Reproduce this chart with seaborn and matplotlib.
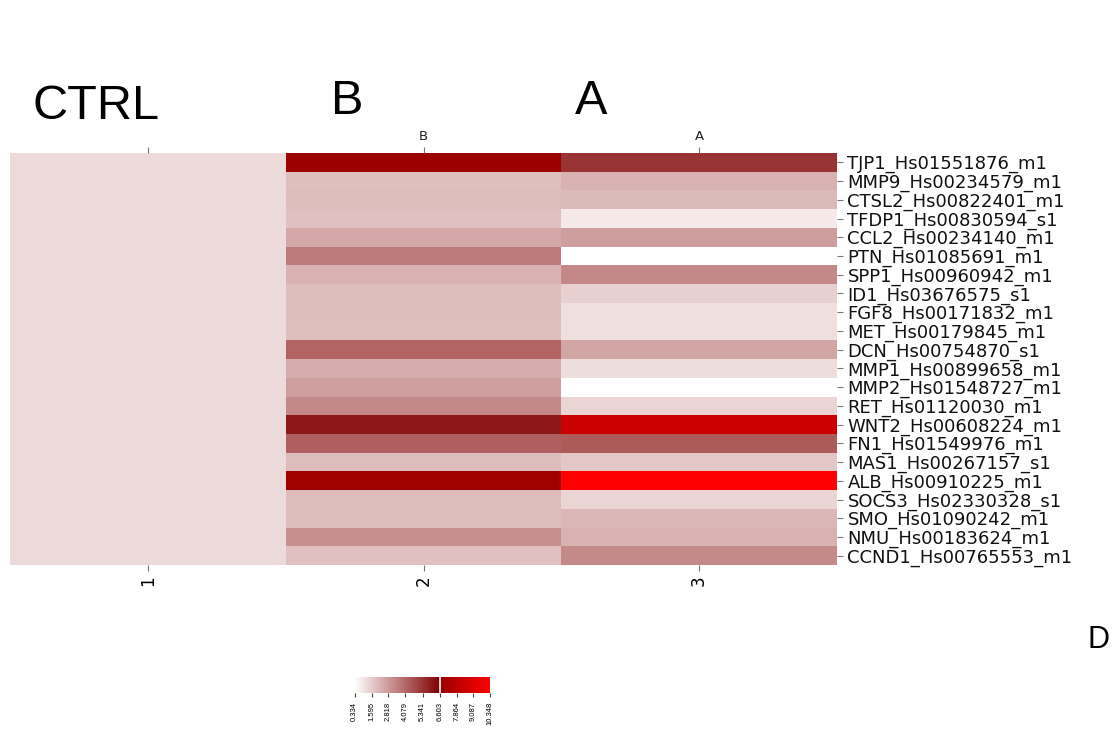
import numpy as np
import pandas as pd
import matplotlib
matplotlib.use("Agg")
import matplotlib.pyplot as plt
import seaborn as sns
from matplotlib.colors import LinearSegmentedColormap

sns.set_style("white")
plt.rcParams['font.family'] = ['Liberation Sans', 'DejaVu Sans']
plt.rcParams['text.color'] = 'black'

genes = ["TJP1_Hs01551876_m1", "MMP9_Hs00234579_m1", "CTSL2_Hs00822401_m1",
         "TFDP1_Hs00830594_s1", "CCL2_Hs00234140_m1", "PTN_Hs01085691_m1",
         "SPP1_Hs00960942_m1", "ID1_Hs03676575_s1", "FGF8_Hs00171832_m1",
         "MET_Hs00179845_m1", "DCN_Hs00754870_s1", "MMP1_Hs00899658_m1",
         "MMP2_Hs01548727_m1", "RET_Hs01120030_m1", "WNT2_Hs00608224_m1",
         "FN1_Hs01549976_m1", "MAS1_Hs00267157_s1", "ALB_Hs00910225_m1",
         "SOCS3_Hs02330328_s1", "SMO_Hs01090242_m1", "NMU_Hs00183624_m1",
         "CCND1_Hs00765553_m1"]

ctrl = [1.24] * 22
grp_b = [6.70, 1.93, 1.98, 1.88, 2.47, 3.58, 2.20, 1.96, 1.96, 1.93, 4.14,
         2.37, 2.69, 3.26, 6.00, 4.27, 1.98, 6.80, 1.98, 1.98, 3.09, 1.88]
grp_a = [5.35, 2.25, 2.03, 0.90, 2.74, 0.334, 3.26, 1.49, 1.12, 1.12, 2.52,
         1.17, 0.334, 1.39, 8.48, 4.39, 1.74, 10.348, 1.39, 2.10, 2.25, 3.23]

col_bottom = ["1", "2", "3"]
col_top = ["", "B", "A"]
cbar_ticks = [0.334, 1.595, 2.818, 4.079, 5.341, 6.603, 7.864, 9.087, 10.348]

vmin, vmax, brk = 0.334, 10.348, 6.603
b = (brk - vmin) / (vmax - vmin)
cmap = LinearSegmentedColormap.from_list(
    "twored", [(0, "#ffffff"), (b, "#800000"), (b, "#990000"), (1, "#ff0000")], N=1024)

df = pd.DataFrame({"1": ctrl, "2": grp_b, "3": grp_a}, index=genes)

fig = plt.figure(figsize=(11.12, 7.32), dpi=100)
ax = fig.add_axes([0.009, 0.228, 0.7437, 0.563])
cax = fig.add_axes([0.319, 0.053, 0.122, 0.022])

sns.heatmap(df, ax=ax, cmap=cmap, vmin=vmin, vmax=vmax, cbar_ax=cax,
            cbar_kws={"orientation": "horizontal", "ticks": cbar_ticks})

ax.yaxis.tick_right()
ax.set_yticklabels(genes, rotation=0, fontsize=13, color="#111111", family="DejaVu Sans")
ax.set_xticklabels(col_bottom, rotation=90, fontsize=12, color="black", family="DejaVu Sans")
ax.tick_params(axis="both", length=4, width=0.8, color="#777777",
               bottom=True, right=True, left=False)

top = ax.twiny()
top.set_xlim(ax.get_xlim())
top.set_xticks([0.5, 1.5, 2.5])
top.set_xticklabels(col_top, fontsize=9.5, color="#222222", family="DejaVu Sans")
top.tick_params(axis="x", length=4, width=0.8, color="#777777")
for s in top.spines.values():
    s.set_visible(False)

cbar = ax.collections[0].colorbar
cbar.outline.set_visible(False)
cax.axvline(brk, color="white", lw=1.2)
cax.tick_params(length=3, width=0.8, labelsize=5.5, color="#444444", labelcolor="black")
cax.set_xticklabels([f"{t:g}" for t in cbar_ticks], rotation=90)

fig.text(0.086, 0.855, "CTRL", fontsize=35, ha="center", va="center")
fig.text(0.312, 0.862, "B", fontsize=35, ha="center", va="center")
fig.text(0.532, 0.862, "A", fontsize=35, ha="center", va="center")
fig.text(0.988, 0.125, "D", fontsize=22, ha="center", va="center")

fig.savefig("out.png", dpi=100)
